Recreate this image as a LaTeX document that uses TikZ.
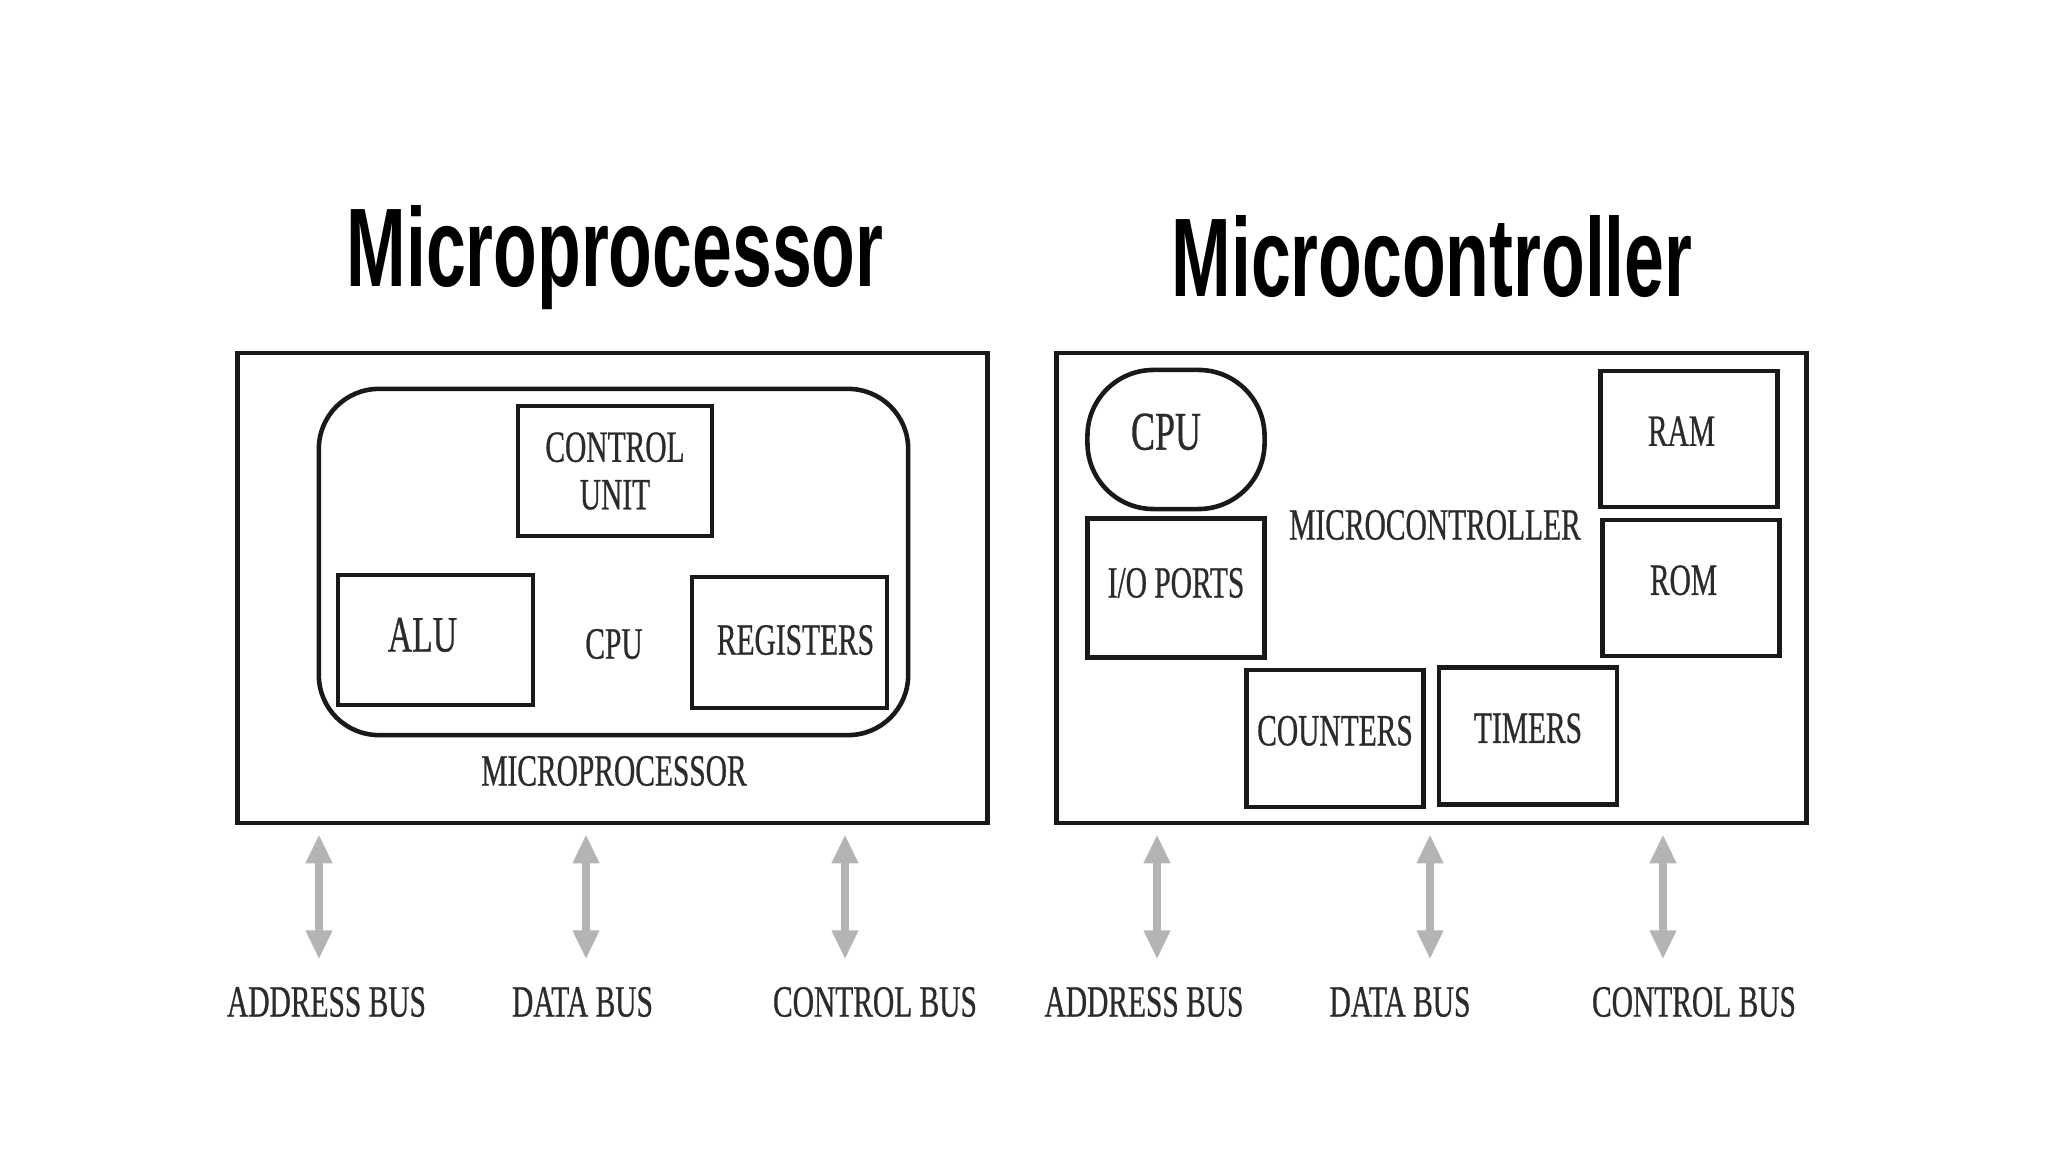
\documentclass[tikz,border=0pt]{standalone}
\usepackage{fontspec}
\setmainfont{Liberation Serif}[FakeStretch=0.66,FakeBold=0.6]
\newfontfamily\headfont{Liberation Sans}[FakeStretch=0.64]
\usetikzlibrary{arrows.meta}
\definecolor{inkgray}{HTML}{2B2B2B}
\definecolor{busgray}{HTML}{B4B4B4}

\begin{document}
\begin{tikzpicture}[x=0.01cm,y=-0.01cm,
  every node/.style={inner sep=0pt,text=inkgray,font=\fontsize{12.7}{13.5}\selectfont},
  boxline/.style={draw=black!90,line width=1.3pt},
  unit/.style={boxline,minimum width=1.77cm,minimum height=1.37cm},
  lifted/.style={text depth=#1},
  bus/.style={busgray,line width=2.4pt,{Triangle[length=2.9mm,width=2.5mm]}-{Triangle[length=2.9mm,width=2.5mm]},shorten <=0.9mm,shorten >=2.7mm},
  heading/.style={anchor=base,text=black,font=\headfont\bfseries\fontsize{31.8}{36}\selectfont}]
\useasboundingbox (0,0) rectangle (2048,1152);

\node[heading] (mptitle) at (615,287) {Microprocessor};
\node[heading] (mctitle) at (1432,297) {Microcontroller};

\node[boxline,minimum width=7.49cm,minimum height=4.7cm] (mpbox) at (612.5,588) {};
\node[boxline,rounded corners=6mm,minimum width=5.89cm,minimum height=3.46cm] (mpcpu) at (613.5,562) {};
\node[unit,minimum width=1.94cm,minimum height=1.3cm,align=center] (cu) at (615,471) {CONTROL\\UNIT};
\node[unit,minimum width=1.95cm,minimum height=1.3cm,lifted=3pt,font=\fontsize{14.5}{16}\selectfont] (alu) at (435.5,640) {\hspace*{-2.6mm}ALU};
\node[unit,minimum width=1.95cm,minimum height=1.31cm,lifted=1.5pt] (regs) at (789.5,642.5) {\hspace*{1.2mm}REGISTERS};
\node (cpulbl) at (614,644) {CPU};
\node (mplbl) at (614,771) {MICROPROCESSOR};

\node[boxline,minimum width=7.5cm,minimum height=4.7cm] (mcbox) at (1431.5,588) {};
\node[unit,rounded corners=6.6mm,minimum height=1.39cm,lifted=4.5pt,font=\fontsize{15.5}{17}\selectfont] (mccpu) at (1176,439.5) {\hspace*{-2mm}CPU};
\node[unit,minimum height=1.385cm,lifted=3pt] (io) at (1176,588) {I/O PORTS};
\node[unit,minimum height=1.36cm,lifted=4.5pt] (ram) at (1689,439) {\hspace*{-1.5mm}RAM};
\node[unit,minimum width=1.774cm,minimum height=1.356cm,lifted=4.5pt] (rom) at (1691,588) {\hspace*{-1.5mm}ROM};
\node[unit,lifted=4.5pt] (cnt) at (1335,738.5) {COUNTERS};
\node[unit,minimum width=1.78cm,lifted=4.5pt] (tmr) at (1528,736) {TIMERS};
\node (mclbl) at (1435,525) {MICROCONTROLLER};

\node (mpaddr) at (326.5,1002) {ADDRESS BUS};
\node (mpdata) at (582.5,1002) {DATA BUS};
\node (mpctrl) at (875,1002) {CONTROL BUS};
\node (mcaddr) at (1144,1002) {ADDRESS BUS};
\node (mcdata) at (1400,1002) {DATA BUS};
\node (mcctrl) at (1694,1002) {CONTROL BUS};

\foreach \x/\lbl in {319/mpaddr,586/mpdata,845/mpctrl}
  \draw[bus] (mpbox.south -| \x,0) -- (\lbl.north -| \x,0);
\foreach \x/\lbl in {1157/mcaddr,1430/mcdata,1663/mcctrl}
  \draw[bus] (mcbox.south -| \x,0) -- (\lbl.north -| \x,0);
\end{tikzpicture}
\end{document}
